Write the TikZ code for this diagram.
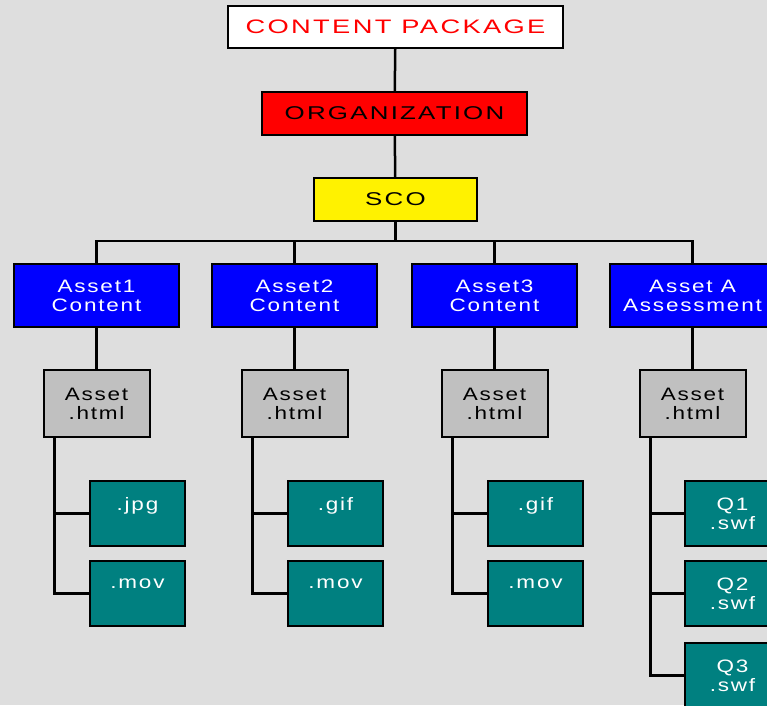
\documentclass[tikz,border=0pt]{standalone}
\usepackage{fontspec}
\newfontfamily\capsfont[FakeStretch=1.4,LetterSpace=12]{Liberation Sans}
\newfontfamily\boxfont[FakeStretch=1.25,LetterSpace=10]{Liberation Sans}
\begin{document}
\begin{tikzpicture}[x=1pt,y=-1pt,
  box/.style={draw=black,line width=2pt,inner sep=0pt,align=center,
    font=\boxfont\fontsize{18}{19}\selectfont},
  topbox/.style={box,font=\capsfont\fontsize{18.5}{20}\selectfont,minimum height=43pt},
  assetbox/.style={box,fill=assetblue,text=white,minimum width=165pt,minimum height=63pt},
  pagebox/.style={box,fill=pagegray,minimum width=106pt,minimum height=67pt},
  filebox/.style={box,fill=fileteal,text=white,minimum width=95pt,minimum height=65pt},
  filetop/.style={filebox,text depth=19pt},
  link/.style={line width=2.5pt}]
\definecolor{bggray}{RGB}{222,222,222}
\definecolor{assetblue}{RGB}{0,0,255}
\definecolor{pagegray}{RGB}{192,192,192}
\definecolor{fileteal}{RGB}{0,128,128}
\useasboundingbox (0,0) rectangle (767,705);
\clip (0,0) rectangle (767,705);
\fill[bggray] (0,0) rectangle (767,705);
\node[topbox,fill=white,text=red,minimum width=335pt,minimum height=42pt,
  font=\capsfont\fontsize{19.5}{21}\selectfont] (pkg) at (395.5,27) {CONTENT PACKAGE};
\node[topbox,fill=red,minimum width=265pt] (org) at (394.5,113.5) {ORGANIZATION};
\node[topbox,fill=yellow,minimum width=163pt] (sco) at (395.5,199.5) {SCO};
\coordinate (bus) at (395.5,241);
\node[assetbox] (a1) at (96.5,295.5) {Asset1\\Content};
\node[assetbox] (a2) at (294.5,295.5) {Asset2\\Content};
\node[assetbox] (a3) at (494.5,295.5) {Asset3\\Content};
\node[assetbox] (aA) at (692.5,295.5) {Asset A\\Assessment};
\node[pagebox] (p1) at (96.5,403.5) {Asset\\.html};
\node[pagebox] (p2) at (294.5,403.5) {Asset\\.html};
\node[pagebox] (p3) at (494.5,403.5) {Asset\\.html};
\node[pagebox] (pA) at (692.5,403.5) {Asset\\.html};
\node[filetop] (f1a) at (137.5,513.5) {.jpg};
\node[filetop] (f1b) at (137.5,593.5) {.mov};
\node[filetop] (f2a) at (335.5,513.5) {.gif};
\node[filetop] (f2b) at (335.5,593.5) {.mov};
\node[filetop] (f3a) at (535.5,513.5) {.gif};
\node[filetop] (f3b) at (535.5,593.5) {.mov};
\node[filebox] (fAa) at (732.5,513.5) {Q1\\.swf};
\node[filebox] (fAb) at (732.5,593.5) {Q2\\.swf};
\node[filebox] (fAc) at (732.5,675.5) {Q3\\.swf};
\draw[link] (pkg) -- (org);
\draw[link] (org) -- (sco);
\draw[link] (sco) -- (bus);
\draw[link] (a1.north) |- (bus) -| (aA.north);
\draw[link] (a2.north) -- (a2.north |- bus);
\draw[link] (a3.north) -- (a3.north |- bus);
\draw[link] (a1) -- (p1);
\draw[link] (a2) -- (p2);
\draw[link] (a3) -- (p3);
\draw[link] (aA) -- (pA);
\coordinate (s1) at ([xshift=12pt]p1.south west);
\coordinate (s2) at ([xshift=12pt]p2.south west);
\coordinate (s3) at ([xshift=12pt]p3.south west);
\coordinate (sA) at ([xshift=12pt]pA.south west);
\draw[link] (s1) |- (f1a.west);
\draw[link] (s1) |- (f1b.west);
\draw[link] (s2) |- (f2a.west);
\draw[link] (s2) |- (f2b.west);
\draw[link] (s3) |- (f3a.west);
\draw[link] (s3) |- (f3b.west);
\draw[link] (sA) |- (fAa.west);
\draw[link] (sA) |- (fAb.west);
\draw[link] (sA) |- (fAc.west);
\end{tikzpicture}
\end{document}
